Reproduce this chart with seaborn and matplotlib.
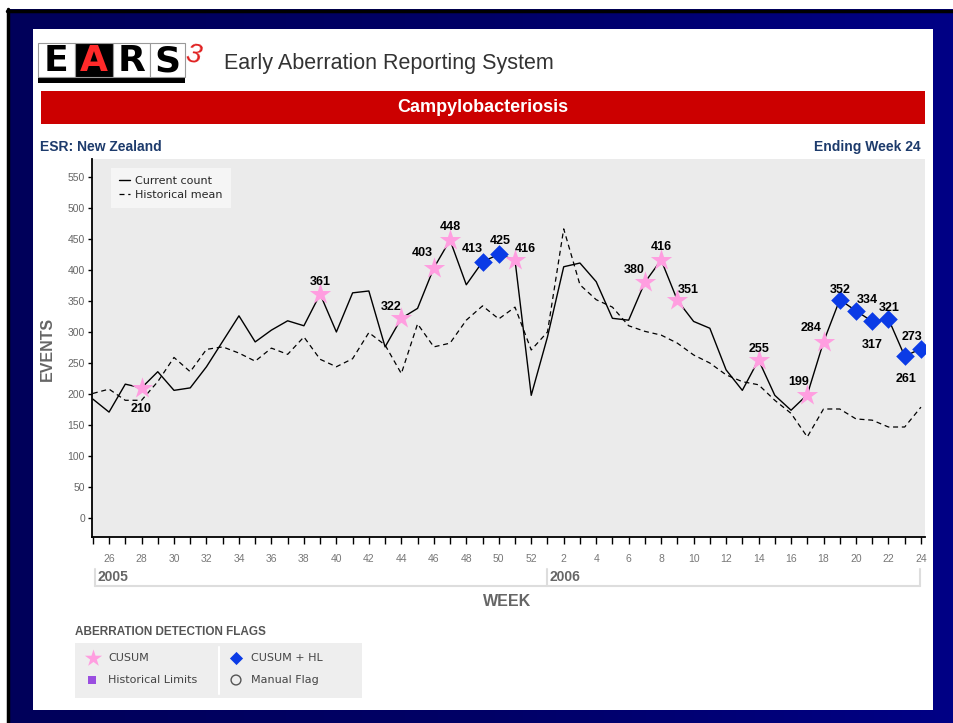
import matplotlib
matplotlib.use("Agg")
import matplotlib.pyplot as plt
from matplotlib.patches import Rectangle
from matplotlib.colors import LinearSegmentedColormap
import numpy as np
import pandas as pd
import seaborn as sns

sns.set_theme(style="white")
plt.rcParams['font.family'] = ['Liberation Sans', 'DejaVu Sans']

# weekly counts, week 25 of 2005 to week 24 of 2006
weeks = list(range(25, 53)) + list(range(1, 25))
years = [2005] * 28 + [2006] * 24
current_count = [192, 171, 216, 210, 236, 206, 210, 244, 285, 326, 284, 303, 318, 310,
                 361, 300, 363, 366, 276, 322, 338, 403, 448, 376, 413, 425, 416, 198,
                 292, 405, 411, 381, 322, 319, 380, 416, 351, 317, 306, 239, 206, 255,
                 198, 174, 199, 284, 352, 334, 317, 321, 261, 273]
historical_mean = [201, 208, 190, 190, 220, 259, 236, 272, 276, 266, 253, 274, 264, 292,
                   256, 244, 257, 299, 279, 233, 313, 276, 282, 319, 342, 321, 340, 271,
                   300, 466, 376, 352, 340, 310, 301, 295, 282, 263, 250, 231, 220, 215,
                   190, 169, 131, 176, 176, 160, 158, 147, 147, 179]

# flagged weeks
cusum_flags = [(2005, 28), (2005, 39), (2005, 44), (2005, 46), (2005, 47), (2005, 51),
               (2006, 7), (2006, 8), (2006, 9), (2006, 14), (2006, 17), (2006, 18)]
cusum_hl_flags = [(2005, 49), (2005, 50), (2006, 19), (2006, 20), (2006, 21), (2006, 22),
                  (2006, 23), (2006, 24)]

# label offsets in pixels (dx, dy up)
label_offsets = {(2005, 28): (0, -21), (2005, 39): (0, 12), (2005, 44): (-10, 11),
                 (2005, 46): (-11, 15), (2005, 47): (0, 13), (2005, 49): (-10, 13),
                 (2005, 50): (1, 13), (2005, 51): (10, 11), (2006, 7): (-11, 12),
                 (2006, 8): (0, 13), (2006, 9): (11, 10), (2006, 14): (1, 11),
                 (2006, 17): (-9, 13), (2006, 18): (-12, 14), (2006, 19): (0, 10),
                 (2006, 20): (11, 11), (2006, 21): (0, -24), (2006, 22): (1, 11),
                 (2006, 23): (1, -23), (2006, 24): (-9, 12)}

df = pd.DataFrame({"pos": range(len(weeks)), "week": weeks, "year": years,
                   "current": current_count, "historical": historical_mean})
key = list(zip(years, weeks))
cusum_df = df.iloc[[key.index(k) for k in cusum_flags]]
hl_df = df.iloc[[key.index(k) for k in cusum_hl_flags]]

W, H = 954, 723
fig = plt.figure(figsize=(W / 100, H / 100), dpi=100, facecolor="white")
wide = ["DejaVu Sans"]

# background layer in pixel coordinates
bg = fig.add_axes([0, 0, 1, 1], zorder=0)
grad = np.linspace(0, 1, 200).reshape(1, -1)
navy = LinearSegmentedColormap.from_list("navy", ["#00005a", "#000066", "#000085"])
bg.imshow(grad, extent=(7, W, H, 9), cmap=navy, aspect="auto")
bg.plot([7, W], [10.5, 10.5], color="black", lw=2.5)
bg.plot([8.5, 8.5], [9, H], color="black", lw=2.5)
bg.add_patch(Rectangle((33, 29), 900, 681, fc="white", ec="none"))

# logo
letters = [("E", "white", "black"), ("A", "black", "#ff2a2a"),
           ("R", "white", "black"), ("S", "white", "black")]
lx = [38, 75, 113, 150, 185]
bg.add_patch(Rectangle((38, 76), 147, 7, fc="black", ec="none"))
for i, (ch, fc, tc) in enumerate(letters):
    bg.add_patch(Rectangle((lx[i], 43), lx[i + 1] - lx[i], 34, fc=fc, ec="#999999", lw=0.8))
    bg.text((lx[i] + lx[i + 1]) / 2, 61, ch, color=tc, fontsize=26, ha="center",
            va="center", weight="bold", family=["DejaVu Sans"])
bg.text(193, 55, "3", color="#e02020", fontsize=20, style="italic", ha="center",
        va="center", rotation=-10)
bg.text(224, 63, "Early Aberration Reporting System", fontsize=15.5, color="#333333",
        va="center")

# banner
bg.add_patch(Rectangle((41, 91), 884, 33, fc="#cc0000", ec="none"))
bg.text(483, 107.5, "Campylobacteriosis", color="white", fontsize=13, weight="bold",
        ha="center", va="center")
bg.text(40, 147, "ESR: New Zealand", color="#1d3b6c", fontsize=10, weight="bold", va="center")
bg.text(921, 147, "Ending Week 24", color="#1d3b6c", fontsize=10, weight="bold",
        ha="right", va="center")

# axis titles
bg.text(47, 349, "EVENTS", rotation=90, color="#666666", fontsize=11.5, weight="bold",
        ha="center", va="center")
bg.text(507, 601, "WEEK", color="#666666", fontsize=11.5, weight="bold",
        ha="center", va="center")

# flag legend
bg.text(75, 632, "ABERRATION DETECTION FLAGS", color="#555555", fontsize=8.5,
        weight="bold", va="center")
bg.add_patch(Rectangle((75, 643), 287, 55, fc="#eeeeee", ec="none"))
bg.plot([219, 219], [647, 694], color="white", lw=1.5)
bg.scatter([93], [658], marker="*", s=170, color="#ff9ee0", linewidths=0)
bg.scatter([92], [680], marker="s", s=30, color="#9a4ee0", linewidths=0)
bg.scatter([236], [658], marker="D", s=45, color="#0b3be6", linewidths=0)
bg.scatter([236], [680], marker="o", s=50, facecolor="none", edgecolor="#555555", linewidths=1)
for (tx, ty, t) in [(108, 658, "CUSUM"), (108, 680, "Historical Limits"),
                    (251, 658, "CUSUM + HL"), (251, 680, "Manual Flag")]:
    bg.text(tx, ty, t, color="#444444", fontsize=8, va="center", family=wide)
bg.set_xlim(0, W)
bg.set_ylim(H, 0)
bg.axis("off")

# main chart
ax = fig.add_axes([92 / W, 1 - 537 / H, 833 / W, 378 / H], zorder=1)
ax.set_facecolor("#ebebeb")
sns.lineplot(data=df, x="pos", y="current", color="black", lw=1, ax=ax, label="Current count")
sns.lineplot(data=df, x="pos", y="historical", color="black", lw=0.9, ax=ax,
             linestyle=(0, (4, 3)), label="Historical mean")
sns.scatterplot(data=cusum_df, x="pos", y="current", marker="*", s=260, color="#ff9ee0",
                linewidth=0, ax=ax, zorder=3)
sns.scatterplot(data=hl_df, x="pos", y="current", marker="D", s=90, color="#0b3be6",
                linewidth=0, ax=ax, zorder=4)

for _, r in pd.concat([cusum_df, hl_df]).iterrows():
    dx, dy = label_offsets[(r["year"], r["week"])]
    ax.annotate(str(r["current"]), (r["pos"], r["current"]), xytext=(dx * 0.72, dy * 0.72),
                textcoords="offset points", ha="center", va="center", fontsize=9,
                weight="bold", color="black", zorder=5)

ax.set_xlim(-0.05, 51.25)
ax.set_ylim(-30.1, 578.5)
ax.set_yticks(range(0, 551, 50))
ax.set_xticks(df["pos"])
ax.set_xticklabels([str(w) if i % 2 == 1 else "" for i, w in enumerate(weeks)])
ax.tick_params(axis="x", direction="out", length=5, width=1, color="black", pad=7,
               labelsize=7.5, labelcolor="#777777", bottom=True)
ax.tick_params(axis="y", direction="out", length=3, width=1, color="black", pad=2,
               labelsize=7.5, labelcolor="#666666", left=True)
ax.set_xlabel("")
ax.set_ylabel("")
for s in ["top", "right"]:
    ax.spines[s].set_visible(False)
for s in ["left", "bottom"]:
    ax.spines[s].set_color("black")
    ax.spines[s].set_linewidth(1.3)

leg = ax.legend(loc="upper left", bbox_to_anchor=(0.0228, 0.976), borderaxespad=0,
                frameon=True, handlelength=1.0, handletextpad=0.5,
                labelspacing=0.35, borderpad=0.7, fancybox=False,
                prop={"family": wide, "size": 8})
leg.get_frame().set_facecolor("#f8f8f8")
leg.get_frame().set_edgecolor("none")

# year band under the week axis
xt = ax.get_xaxis_transform()
start_2006 = years.index(2006)
band = dict(color="#dddddd", lw=1.5, transform=xt, clip_on=False)
ax.plot([0.15, 50.95], [-0.1296, -0.1296], **band)
for xp in [0.15, start_2006, 50.95]:
    ax.plot([xp, xp], [-0.0847, -0.1296], **band)
ax.text(0.3, -0.107, "2005", transform=xt, color="#666666", fontsize=10, weight="bold",
        va="center")
ax.text(start_2006 + 0.15, -0.107, "2006", transform=xt, color="#666666", fontsize=10,
        weight="bold", va="center")

fig.savefig("out.png", dpi=100, facecolor=fig.get_facecolor())
